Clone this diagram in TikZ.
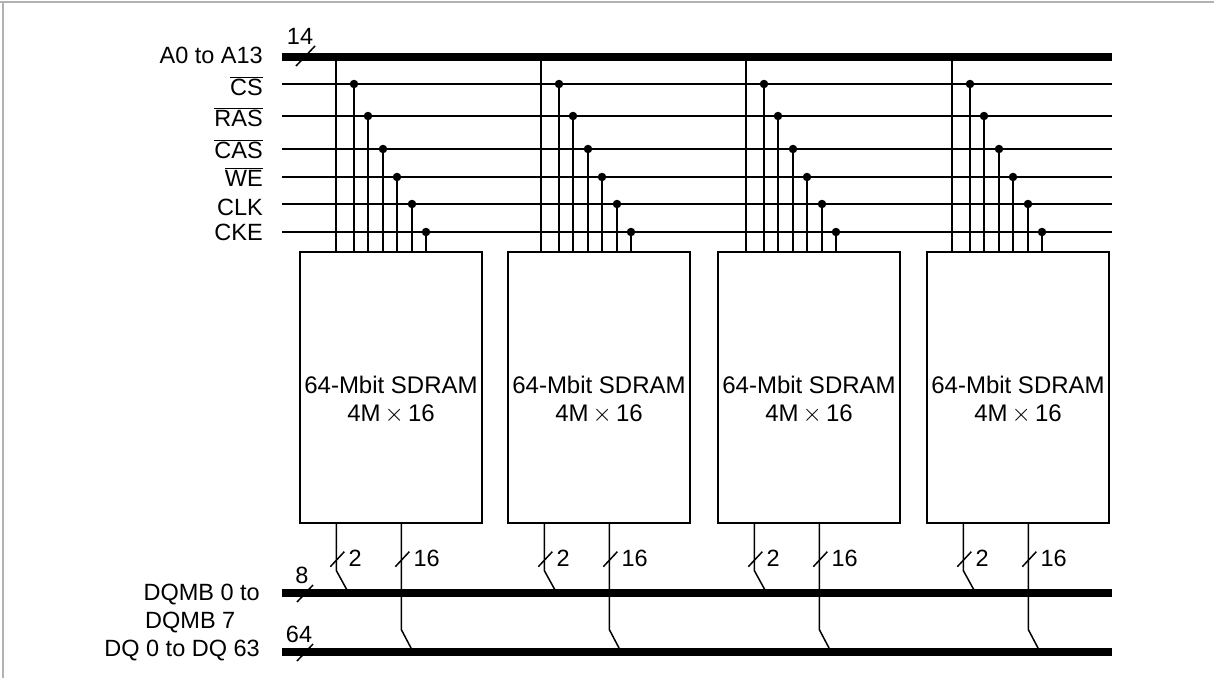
\documentclass[tikz,border=0pt]{standalone}
\usepackage{fontspec}
\setmainfont{Liberation Sans}
\usetikzlibrary{positioning,calc}

\newcommand{\negsig}[1]{\ensuremath{\overline{\hbox{#1}}}}

\begin{document}
\begin{tikzpicture}[
    x=1pt, y=-1pt,
    every node/.style={font=\fontsize{23.5}{28}\selectfont},
    chip/.style={rectangle, draw, line width=1.3pt, minimum width=182pt, minimum height=271pt, inner sep=0pt},
    chiptext/.style={align=center, inner sep=0pt, font=\fontsize{24}{28}\selectfont},
    bus/.style={line width=8pt},
    wire/.style={line width=1.5pt},
    tap/.style={circle, fill, inner sep=0pt, minimum size=8.5pt},
    sig/.style={anchor=base east, inner sep=0pt},
    buswidth/.style={inner sep=0pt}
]
\useasboundingbox (0,0) rectangle (1214,678);

% Frame
\draw [gray!60, line width=1.5pt] (0,2) -- (1214,2);
\draw [gray!60, line width=1.5pt] (3,2) -- (3,678);

% Control lines
\foreach \name/\y in {cs/84, ras/116, cas/149, we/177, clk/204, cke/232} {
    \coordinate (\name-l) at (282,\y);
    \coordinate (\name-r) at (1112,\y);
    \draw [wire] (\name-l) -- (\name-r);
}

% Signal names
\node [sig] (lab-a) at (263,63) {A0 to A13};
\node [sig] (lab-cs) at (263,95) {\negsig{CS}};
\node [sig] (lab-ras) at (263,126) {\negsig{RAS}};
\node [sig] (lab-cas) at (263,158) {\negsig{CAS}};
\node [sig] (lab-we) at (263,186) {\negsig{WE}};
\node [sig] (lab-clk) at (263,215) {CLK};
\node [sig] (lab-cke) at (263,240) {CKE};
\node [sig] (lab-dqmb) at (260,600) {DQMB 0 to};
\node [anchor=base west, inner sep=0pt] (lab-dqmb7) at (145,628) {DQMB 7};
\node [sig] (lab-dq) at (260,656) {DQ 0 to DQ 63};

% Memory chips
\foreach \i/\vx/\bx in {1/336/300, 2/541/508, 3/746/718, 4/952/927} {
    \node [chip] (ram\i) at (\bx+91,387.5) {};
    \node [chiptext] (ramtext\i) at ([yshift=-12pt]ram\i.center) {64-Mbit SDRAM\\4M\,$\times$\,16};
    % address and control taps
    \coordinate (a\i) at (\vx,57);
    \draw [wire] (a\i) -- (a\i |- ram\i.north);
    \foreach \name/\dx in {cs/18, ras/32, cas/47, we/61, clk/76, cke/90} {
        \node [tap] (\name\i) at ($(\name-l)+(\vx+\dx-282,0)$) {};
        \draw [wire] (\name\i.center) -- (\name\i.center |- ram\i.north);
    }
    % data outputs
    \draw [wire] ([xshift=37pt]ram\i.south west) coordinate (dm\i) -- ++(0,47) -- ++(11,20);
    \draw [wire] ([xshift=102pt]ram\i.south west) coordinate (dq\i) -- ++(0,106) -- ++(10,19);
    \draw [wire] ([shift={(-6,43)}]dm\i) -- ++(14,-15);
    \draw [wire] ([shift={(-6,43)}]dq\i) -- ++(14,-15);
    \node [buswidth, anchor=west] (n2-\i) at ([shift={(12,35)}]dm\i) {2};
    \node [buswidth, anchor=west] (n16-\i) at ([shift={(12,35)}]dq\i) {16};
}

% Buses
\coordinate (abus-l) at (282,57);
\coordinate (abus-r) at (1112,57);
\coordinate (dqmb-l) at (282,593);
\coordinate (dqmb-r) at (1112,593);
\coordinate (dqbus-l) at (282,652);
\coordinate (dqbus-r) at (1112,652);
\draw [bus] (abus-l) -- (abus-r);
\draw [bus] (dqmb-l) -- (dqmb-r);
\draw [bus] (dqbus-l) -- (dqbus-r);
\draw [wire] ([shift={(14,9)}]abus-l) -- ++(19,-20);
\draw [wire] ([shift={(15,9)}]dqmb-l) -- ++(16,-17);
\draw [wire] ([shift={(15,9)}]dqbus-l) -- ++(16,-17);
\node [buswidth] (w14) at (300,36) {14};
\node [buswidth] (w8) at (302,575) {8};
\node [buswidth] (w64) at (299,634) {64};
\end{tikzpicture}
\end{document}
